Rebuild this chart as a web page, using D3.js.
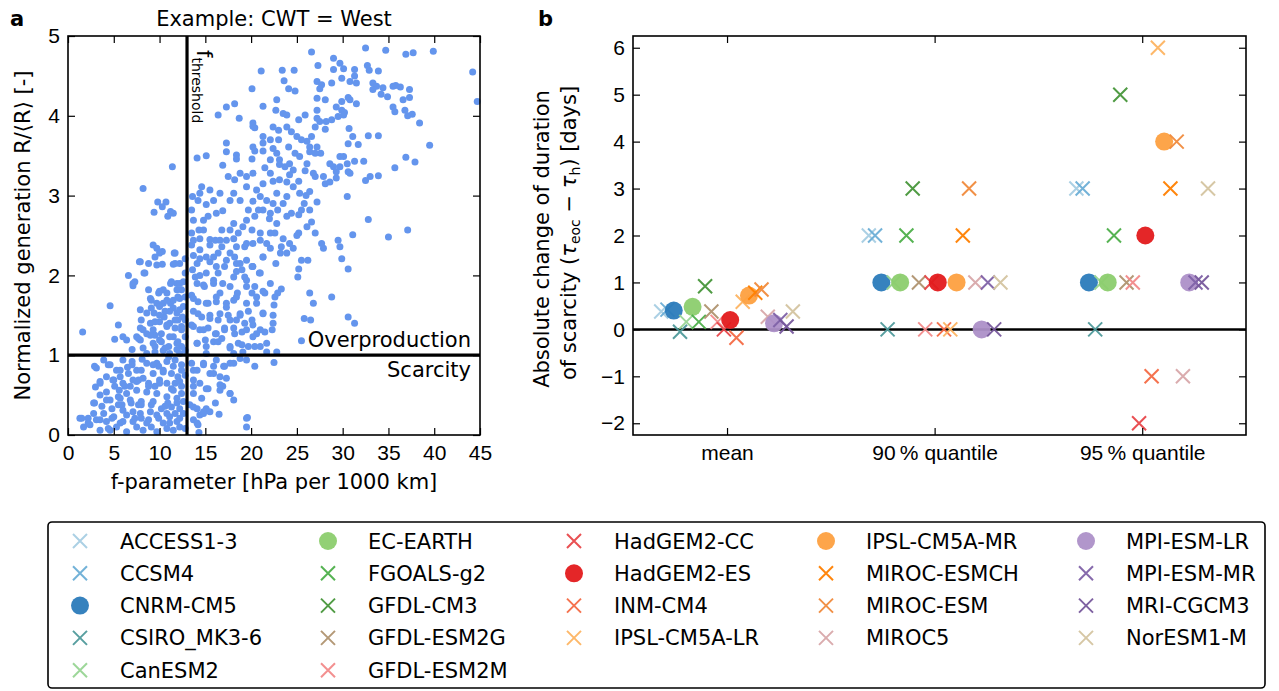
<!DOCTYPE html>
<meta charset="utf-8">
<style>
html, body { margin: 0; background: #fff; }
svg { font-family: "DejaVu Sans", sans-serif; }
.tick line { stroke: #000; stroke-width: 1.2; }
.tick text { font-size: 21px; fill: #000; }
</style>
<svg width="1279" height="691"></svg>
<script src="https://cdn.jsdelivr.net/npm/d3@7"></script>
<script>
// panel a: f-parameter vs normalized generation, CWT = West
const westPoints = [
  [26.6,4.80],[32.5,4.85],[34.7,4.82],[36.9,4.77],[37.7,4.79],[39.9,4.81],[44.2,4.55],[44.7,4.18],
  [21.1,4.56],[23.4,4.57],[24.7,4.57],[29.0,4.72],[29.7,4.66],[30.1,4.59],[31.3,4.58],[29.0,4.58],
  [27.3,4.63],[32.7,4.63],[32.9,4.57],[33.9,4.56],[30.8,4.43],[31.3,4.50],[31.5,4.41],[29.9,4.47],
  [28.8,4.41],[27.2,4.43],[27.7,4.39],[27.5,4.34],[23.6,4.44],[24.1,4.34],[24.8,4.31],[20.1,4.34],
  [33.3,4.41],[33.7,4.37],[34.4,4.35],[33.3,4.33],[34.2,4.27],[34.9,4.24],[35.5,4.37],[35.8,4.38],
  [36.3,4.36],[37.3,4.33],[37.3,4.23],[36.6,4.20],[35.5,4.11],[35.7,4.05],[36.8,4.07],[37.1,4.00],
  [37.6,4.02],[38.4,3.91],[39.5,3.63],[36.9,3.48],[37.9,3.42],[35.7,3.35],[37.1,2.57],[35.0,2.48],
  [32.8,2.70],[31.1,2.51],[30.5,2.99],[33.9,3.25],[33.0,3.24],[32.5,3.19],[33.9,3.75],[32.8,3.75],
  [32.3,3.43],[31.3,3.43],[31.7,3.64],[31.1,3.74],[30.6,3.65],[30.7,3.84],[29.7,3.36],[29.7,3.49],
  [30.1,3.49],[29.3,3.22],[30.6,3.30],[30.8,3.28],[29.9,4.07],[30.2,4.04],[30.1,4.01],[29.9,4.18],
  [30.6,4.23],[30.8,4.20],[31.5,4.15],[28.8,3.95],[28.2,3.93],[27.5,3.93],[27.0,3.86],[28.1,3.83],
  [27.2,3.97],[27.2,4.07],[27.2,4.22],[29.3,4.11],[28.1,4.20],[29.5,3.99],[30.5,3.40],[28.6,3.40],
  [29.0,3.36],[29.3,3.30],[27.9,3.24],[27.0,3.24],[28.1,3.15],[28.6,3.17],[26.8,3.28],[27.6,3.53],
  [27.2,3.61],[26.6,3.74],[26.1,3.68],[26.4,3.61],[27.0,3.53],[26.4,3.55],[27.2,2.92],[29.7,2.36],
  [29.9,2.21],[30.6,2.08],[29.5,2.44],[27.7,2.40],[27.9,2.34],[27.0,2.53],[26.6,2.67],[26.1,2.61],
  [25.2,2.53],[25.5,2.82],[26.4,2.82],[25.8,2.90],[28.8,1.73],[30.6,1.48],[31.3,1.40],[26.8,1.65],
  [26.4,1.78],[25.8,1.46],[26.5,1.44],[25.5,1.18],[25.1,1.98],[25.2,2.08],[25.5,2.19],[26.2,2.19],
  [24.6,2.34],[23.9,2.28],[23.2,2.28],[23.3,2.36],[22.6,2.53],[22.1,2.34],[22.7,2.15],[22.1,1.90],
  [22.9,1.78],[23.3,1.83],[22.6,1.73],[22.5,1.63],[22.4,1.50],[22.4,1.40],[22.3,1.32],[22.8,1.04],
  [22.5,0.91],[21.5,1.29],[20.6,1.27],[20.4,0.86],[19.6,0.22],[19.5,0.10],[19.5,0.94],[18.1,0.44],
  [17.7,0.52],[16.9,0.61],[16.5,0.26],[16.6,0.73],[15.9,0.86],[15.1,1.02],[14.3,0.03],[14.2,0.13],
  [14.4,0.25],[15.1,0.33],[15.5,0.29],[14.8,0.27],[14.1,0.33],
  [11.4,3.36],[8.2,3.09],[9.8,2.92],[10.7,2.92],[10.3,2.86],[11.2,2.80],[11.5,2.78],[10.9,2.74],
  [9.4,2.79],[6.6,2.00],[7.3,1.92],[7.1,1.87],[8.3,2.03],[7.8,2.17],[8.8,2.15],[4.6,1.62],
  [1.6,1.29],[5.5,1.38],[5.1,1.20],[6.0,1.23],[7.9,1.57],[7.5,1.23],[9.3,2.38],[9.7,2.34],
  [10.3,2.30],[9.5,2.23],[11.6,2.28],[11.5,2.14],[10.3,2.14],[9.7,2.13],[12.8,2.21],[12.2,2.15],
  [11.2,1.90],[11.9,1.90],[12.4,1.82],[12.2,1.71],[8.8,1.82],[9.9,1.78],[10.8,1.78],[9.1,1.69],
  [9.7,1.65],[10.4,1.65],[11.2,1.65],[8.6,1.53],[9.4,1.53],[10.5,1.48],[11.9,1.53],[12.5,1.48],
  [10.0,1.42],[10.8,1.36],[11.7,1.34],[12.4,1.32],[9.3,1.32],[8.6,1.27],[7.9,1.19],[9.3,1.15],
  [10.2,1.17],[11.0,1.11],[11.9,1.15],[12.4,1.11],[7.0,1.07],[8.6,1.02],[9.5,1.04],[11.1,1.02],
  [12.2,1.02],[12.8,2.03],[12.6,1.92],[11.9,1.82],[12.8,1.73],[11.5,1.69],[10.4,1.82],[12.6,1.61],
  [11.5,1.59],[10.6,1.55],[10.0,1.61],[12.8,1.44],[11.1,1.40],[12.0,1.44],[10.2,1.27],[12.8,1.23],
  [11.5,1.23],[9.5,1.25],[10.4,1.06],[12.8,1.06],[6.4,1.19],[8.2,1.32],[9.0,1.40],[8.0,1.44],
  [3.1,0.84],[3.5,0.67],[4.6,0.88],[4.2,0.73],[5.3,0.81],[6.0,0.94],[7.0,0.92],[7.5,0.81],
  [8.6,0.90],[9.7,0.90],[10.8,0.92],[11.7,0.94],[12.4,0.88],[9.3,0.77],[10.4,0.79],[11.3,0.77],
  [12.0,0.73],[10.0,0.69],[10.8,0.65],[11.7,0.65],[12.4,0.61],[8.2,0.71],[7.1,0.69],[6.0,0.65],
  [5.1,0.61],[4.2,0.54],[2.9,0.40],[3.7,0.36],[4.6,0.44],[5.5,0.48],[6.4,0.52],[7.5,0.56],
  [8.6,0.54],[9.7,0.52],[10.8,0.48],[11.9,0.46],[12.6,0.42],[1.3,0.21],[1.7,0.10],[2.4,0.13],
  [3.1,0.19],[3.5,0.06],[4.2,0.17],[5.0,0.23],[5.7,0.15],[6.4,0.25],[7.1,0.17],[7.9,0.27],
  [8.8,0.19],[9.7,0.25],[10.4,0.15],[11.1,0.23],[11.9,0.17],[12.6,0.27],[4.8,0.33],[5.9,0.38],
  [6.9,0.40],[8.0,0.42],[9.1,0.38],[10.2,0.33],[11.3,0.35],[12.2,0.33],[4.6,0.06],[6.4,0.04],
  [8.2,0.06],[9.7,0.04],[11.5,0.06],[12.8,0.08],[3.9,0.94],[5.7,0.73],[6.6,0.77],[7.7,0.69],
  [8.8,0.65],[9.5,0.61],[11.5,0.56],[6.8,0.61],[5.0,0.69],[3.5,0.50],[6.0,0.31],[7.1,0.29],
  [9.0,0.29],[10.8,0.27],[11.7,0.27],[3.9,0.27],[2.8,0.27],[2.2,0.21],[4.4,0.08],[5.3,0.10],
  [7.5,0.10],[9.1,0.10],[10.8,0.08],[12.2,0.10],[8.0,0.21],[10.9,0.40],[5.7,0.46],[7.7,0.38],
  [12.4,0.52],[12.8,0.75],[9.9,0.86],[11.0,0.98],[6.5,0.85],[8.1,0.95],[5.6,0.56],[3.0,0.60],
  [13.5,0.90],[14.1,0.81],[14.8,0.88],[15.5,0.77],[16.2,0.94],[17.1,0.86],[17.3,0.71],[14.4,0.65],
  [15.3,0.58],[13.7,0.52],[14.6,0.46],[13.7,0.69],[13.3,0.38],[13.7,0.19],[16.6,0.56],[17.7,0.90],
  [18.1,1.02],[18.8,0.96],
  [14.1,3.47],[15.1,3.50],[13.6,2.99],[14.4,3.03],[14.6,3.11],[15.1,2.89],[14.2,2.94],[13.7,2.69],
  [14.8,2.69],[13.5,2.53],[14.3,2.57],[14.8,2.57],[15.3,2.74],[16.2,2.78],[15.5,2.45],[13.5,2.38],
  [14.4,2.46],[13.7,2.25],[14.4,2.21],[15.5,2.17],[16.4,2.28],[16.8,2.57],[17.3,2.44],[17.7,2.57],
  [16.8,2.36],[17.7,2.28],[17.1,2.11],[16.4,2.03],[15.1,2.03],[14.4,2.00],[13.6,2.07],[14.1,1.90],
  [14.9,1.86],[15.9,1.90],[16.6,1.78],[17.7,1.86],[18.5,1.78],[13.5,1.75],[14.2,1.67],[15.3,1.65],
  [16.2,1.67],[17.3,1.65],[18.1,1.69],[13.7,1.55],[14.6,1.48],[15.5,1.50],[16.4,1.44],[17.5,1.50],
  [18.4,1.44],[19.3,1.40],[13.5,1.38],[14.4,1.32],[15.3,1.34],[16.2,1.27],[17.1,1.32],[18.1,1.34],
  [19.0,1.29],[20.2,1.38],[14.1,1.15],[15.0,1.19],[15.9,1.17],[16.8,1.21],[17.7,1.09],[18.6,1.15],
  [19.7,1.11],[21.0,1.11],[21.7,1.04],[19.1,1.04],[20.2,1.23],[18.8,1.52],[19.7,1.55],[20.6,1.65],
  [21.3,1.53],[20.1,1.78],[19.5,1.86],[20.4,1.86],[21.5,1.78],[19.3,1.98],[20.2,2.11],[20.9,2.03],
  [18.4,2.05],[18.8,2.15],[19.5,2.19],[18.2,2.23],[18.4,2.36],[19.3,2.36],[20.2,2.40],[21.3,2.23],
  [21.7,2.40],[21.0,2.53],[19.5,2.69],[20.1,2.57],[19.1,2.61],[18.6,2.53],[18.1,2.65],[18.8,2.94],
  [19.7,2.82],[20.4,2.74],[17.7,2.94],[16.9,2.81],[17.5,3.24],[18.2,3.20],[19.5,3.11],[20.6,3.07],
  [21.3,3.15],[22.1,3.28],[21.0,2.99],[21.7,2.94],[22.4,2.90],[22.1,2.78],[22.9,2.82],[23.5,2.90],
  [22.8,3.03],[23.9,2.99],[22.8,2.65],[23.9,2.74],[24.4,2.78],[24.6,3.11],[23.9,3.17],[23.1,3.20],
  [22.4,3.18],[25.2,3.18],[25.3,3.03],[24.6,3.32],[24.2,3.40],[23.7,3.36],[25.3,3.49],[24.8,3.53],
  [25.5,3.70],[25.0,3.74],[24.4,3.80],[23.9,3.86],[23.0,3.82],[23.0,3.70],[24.1,3.61],[23.9,4.01],
  [23.5,4.03],[25.2,3.95],[25.9,4.01],[22.8,4.20],[22.7,4.07],[21.3,4.12],[20.2,3.91],[20.2,3.87],
  [20.4,3.85],[21.3,3.74],[21.3,3.66],[21.3,3.56],[20.2,3.61],[20.4,3.56],[20.1,3.46],[18.4,3.51],
  [18.4,3.46],[17.3,3.55],[17.3,3.66],[16.9,3.38],[16.4,4.01],[17.3,4.11],[18.2,4.15],[18.7,3.97],
  [22.4,3.86],[22.1,3.70],[22.4,3.59],[22.8,3.53],[22.1,3.45],[21.5,3.35],[23.1,3.45],[23.1,3.39],
  [26.1,3.40],[25.9,3.31],[24.2,3.26],[22.0,2.71],[20.2,2.93],[20.8,2.82],[21.3,2.82],[22.1,2.53],
  [23.5,2.46],[24.2,2.40],[25.0,2.50],[25.2,2.76],[26.0,3.00],[26.4,3.05],[16.6,3.03],[15.9,2.94],
  [15.5,3.07],[16.1,2.44],[15.9,2.23],[13.5,2.82],[18.1,3.03],[18.8,3.28],[19.5,3.24],[20.2,3.28],
  // denser core, second reading pass
  [10.0,2.28],[7.9,2.17],[11.7,2.28],[11.7,2.15],[8.4,2.03],[7.1,1.90],[11.3,1.92],[12.2,1.90],
  [10.0,1.80],[9.0,1.71],[10.8,1.69],[12.0,1.73],[9.1,1.59],[10.0,1.50],[11.1,1.55],[12.2,1.57],
  [9.5,1.42],[10.8,1.38],[11.7,1.44],[12.4,1.36],[7.9,1.34],[7.7,1.21],[9.0,1.25],[10.0,1.19],
  [11.1,1.23],[12.0,1.17],[8.2,1.09],[9.5,1.11],[10.6,1.09],[11.9,1.07],
  [13.7,2.44],[14.4,2.32],[15.5,2.38],[16.6,2.44],[18.1,2.46],[19.5,2.40],[21.0,2.44],[14.1,2.15],
  [15.1,2.23],[16.2,2.11],[17.3,2.19],[18.4,2.15],[19.0,2.07],[20.1,2.11],[21.3,2.23],[13.9,1.98],
  [14.8,1.88],[15.9,1.94],[16.9,1.90],[18.1,1.98],[19.5,1.94],[21.0,2.03],[21.3,1.80],[13.7,1.71],
  [15.1,1.65],[16.2,1.73],[17.3,1.60],[18.4,1.73],[19.5,1.65],[20.6,1.73],[14.2,1.52],[15.5,1.46],
  [16.6,1.52],[17.7,1.44],[18.8,1.50],[20.1,1.44],[21.3,1.52],[13.7,1.36],[14.8,1.32],[16.1,1.27],
  [17.1,1.34],[18.2,1.27],[19.5,1.32],[21.0,1.32],[14.1,1.15],[15.1,1.11],[16.4,1.17],[17.7,1.11],
  [19.0,1.13],[20.4,1.11],[21.7,1.15],
  [2.9,0.86],[4.4,0.88],[5.7,0.81],[7.0,0.88],[8.0,0.81],[9.3,0.88],[10.4,0.81],[11.5,0.86],
  [12.4,0.81],[3.5,0.65],[4.9,0.69],[6.2,0.61],[7.5,0.67],[8.8,0.61],[10.0,0.65],[11.3,0.58],
  [12.2,0.67],[2.8,0.40],[4.2,0.44],[5.5,0.38],[6.8,0.44],[8.0,0.38],[9.3,0.42],[10.6,0.36],
  [11.9,0.40],[1.5,0.21],[2.2,0.15],[3.5,0.19],[4.8,0.21],[6.0,0.17],[7.3,0.21],[8.6,0.15],
  [9.9,0.21],[11.1,0.15],[12.2,0.21],[13.7,0.81],[14.8,0.90],[15.9,0.77],[17.0,0.86],[18.1,0.90],
  [13.7,0.61],[15.1,0.58],[16.6,0.63],[17.7,0.52],[13.7,0.35],[14.8,0.29],[16.1,0.40],[14.1,0.15],
  [19.5,0.21]
];

// panel b: change of scarcity duration per model
const models = ['ACCESS1-3','CCSM4','CNRM-CM5','CSIRO_MK3-6','CanESM2','EC-EARTH','FGOALS-g2',
  'GFDL-CM3','GFDL-ESM2G','GFDL-ESM2M','HadGEM2-CC','HadGEM2-ES','INM-CM4','IPSL-CM5A-LR',
  'IPSL-CM5A-MR','MIROC-ESMCH','MIROC-ESM','MIROC5','MPI-ESM-LR','MPI-ESM-MR','MRI-CGCM3','NorESM1-M'];
const markers = ['x','x','o','x','x','o','x','x','x','x','x','o','x','x','o','x','x','x','o','x','x','x'];
const colors = ['#a6cee3','#6baed6','#2b7bba','#4f9a9b','#98d594','#8ccd6e','#4daf4a','#47963a',
  '#b09470','#f28a8a','#e8474a','#e31a1c','#f46a45','#fdb462','#fda040','#ff7f00','#f08a3c',
  '#d8a8aa','#ad90c8','#8062a8','#77589c','#d4c4a0'];
const categories = ['mean', '90\u2009% quantile', '95\u2009% quantile'];
const meanVals = [0.38,0.42,0.40,-0.05,0.16,0.48,0.16,0.92,0.38,0.16,0.0,0.20,-0.18,0.59,0.72,0.78,0.85,0.27,0.13,0.20,0.06,0.38];
const q90Vals = [2,2,1,0,1,1,2,3,1,0,1,1,0,0,1,2,3,1,0,1,0,1];
const q95Vals = [3,3,1,0,1,1,2,5,1,1,-2,2,-1,6,4,3,4,-1,1,1,1,3];
const legendCols = [5, 5, 4, 4, 4];

const svg = d3.select('svg');
const A = {left: 68, right: 480, top: 36, bottom: 435};
const B = {left: 633, right: 1246, top: 36, bottom: 435};

const xA = d3.scaleLinear().domain([0, 45]).range([A.left, A.right]);
const yA = d3.scaleLinear().domain([0, 5]).range([A.bottom, A.top]);
const xB = d3.scaleLinear().domain([-0.453, 2.5]).range([B.left, B.right]);
const yB = d3.scaleLinear().domain([-2.25, 6.25]).range([B.bottom, B.top]);

function frameAxes(P, x, y, xt, yt, xfmt, yfmt) {
  const g = svg.append('g');
  g.append('g').attr('transform', `translate(0,${P.bottom})`)
    .call(d3.axisBottom(x).tickValues(xt).tickSize(-7).tickPadding(10).tickFormat(xfmt));
  g.append('g').attr('transform', `translate(0,${P.top})`)
    .call(d3.axisTop(x).tickValues(xt).tickSize(-7).tickFormat(''));
  g.append('g').attr('transform', `translate(${P.left},0)`)
    .call(d3.axisLeft(y).tickValues(yt).tickSize(-7).tickPadding(8).tickFormat(yfmt));
  g.append('g').attr('transform', `translate(${P.right},0)`)
    .call(d3.axisRight(y).tickValues(yt).tickSize(-7).tickFormat(''));
  g.selectAll('.domain').remove();
  g.selectAll('.tick text').attr('font-family', null);
  return g;
}

// ---- panel a ----
svg.append('g')
  .selectAll('circle')
  .data(westPoints)
  .enter()
  .append('circle')
  .attr('cx', d => xA(d[0]))
  .attr('cy', d => yA(d[1]))
  .attr('r', 3.5)
  .attr('fill', '#6495ed');

svg.append('line')
  .attr('x1', xA(13)).attr('x2', xA(13))
  .attr('y1', A.top).attr('y2', A.bottom)
  .attr('stroke', '#000').attr('stroke-width', 3.2);
svg.append('line')
  .attr('x1', A.left).attr('x2', A.right)
  .attr('y1', yA(1)).attr('y2', yA(1))
  .attr('stroke', '#000').attr('stroke-width', 3.2);

frameAxes(A, xA, yA, d3.range(0, 50, 5), d3.range(0, 6), d3.format('d'), d3.format('d'));
svg.append('rect')
  .attr('x', A.left).attr('y', A.top)
  .attr('width', A.right - A.left).attr('height', A.bottom - A.top)
  .attr('fill', 'none').attr('stroke', '#000').attr('stroke-width', 1.6);

const fth = svg.append('text')
  .attr('transform', `translate(${xA(13) + 10},50) rotate(90)`)
  .attr('font-size', 21);
fth.append('tspan').text('f');
fth.append('tspan').attr('dy', 5).attr('font-size', 14).text('threshold');

svg.append('text').attr('x', 471).attr('y', 347).attr('text-anchor', 'end')
  .attr('font-size', 21).text('Overproduction');
svg.append('text').attr('x', 471).attr('y', 377).attr('text-anchor', 'end')
  .attr('font-size', 21).text('Scarcity');

svg.append('text').attr('x', (A.left + A.right) / 2).attr('y', 26).attr('text-anchor', 'middle')
  .attr('font-size', 21).text('Example: CWT = West');
svg.append('text').attr('x', 10).attr('y', 26).attr('font-size', 21).attr('font-weight', 'bold').text('a');
svg.append('text').attr('x', (A.left + A.right) / 2).attr('y', 489).attr('text-anchor', 'middle')
  .attr('font-size', 21).text('f-parameter [hPa per 1000 km]');
svg.append('text')
  .attr('transform', `translate(30,${(A.top + A.bottom) / 2}) rotate(-90)`)
  .attr('text-anchor', 'middle').attr('font-size', 21)
  .text('Normalized generation R/\u27e8R\u27e9 [-]');

// ---- panel b ----
svg.append('line')
  .attr('x1', B.left).attr('x2', B.right)
  .attr('y1', yB(0)).attr('y2', yB(0))
  .attr('stroke', '#000').attr('stroke-width', 2.5);

const step = 0.0302;
const series = [meanVals, q90Vals, q95Vals];
const pts = [];
series.forEach((vals, c) => {
  vals.forEach((v, i) => pts.push({c, i, v}));
});
pts.sort((a, b) => a.i - b.i);

const gb = svg.append('g');
function drawMarker(g, type, color, cx, cy) {
  if (type === 'o') {
    g.append('circle').attr('cx', cx).attr('cy', cy).attr('r', 9)
      .attr('fill', color).attr('fill-opacity', 0.95);
  } else {
    const s = 7;
    g.append('path')
      .attr('d', `M${cx - s},${cy - s}L${cx + s},${cy + s}M${cx - s},${cy + s}L${cx + s},${cy - s}`)
      .attr('stroke', color).attr('stroke-width', 2).attr('fill', 'none').attr('stroke-opacity', 0.95);
  }
}
pts.forEach(p => {
  drawMarker(gb, markers[p.i], colors[p.i], xB(p.c + (p.i - 10.5) * step), yB(p.v));
});

frameAxes(B, xB, yB, [0, 1, 2], d3.range(-2, 7), i => categories[i], d => d3.format('d')(d).replace('-', '\u2212'));
svg.append('rect')
  .attr('x', B.left).attr('y', B.top)
  .attr('width', B.right - B.left).attr('height', B.bottom - B.top)
  .attr('fill', 'none').attr('stroke', '#000').attr('stroke-width', 1.6);

svg.append('text').attr('x', 538).attr('y', 26).attr('font-size', 21).attr('font-weight', 'bold').text('b');
svg.append('text')
  .attr('transform', `translate(549,239) rotate(-90)`)
  .attr('text-anchor', 'middle').attr('font-size', 21)
  .text('Absolute change of duration');
const yl2 = svg.append('text')
  .attr('transform', `translate(576,233) rotate(-90)`)
  .attr('text-anchor', 'middle').attr('font-size', 21);
yl2.append('tspan').text('of scarcity (');
yl2.append('tspan').attr('font-style', 'italic').text('\u03c4');
yl2.append('tspan').attr('font-size', 14).attr('dy', 4).text('eoc');
yl2.append('tspan').attr('dy', -4).text(' \u2212 ');
yl2.append('tspan').attr('font-style', 'italic').text('\u03c4');
yl2.append('tspan').attr('font-size', 14).attr('dy', 4).text('h');
yl2.append('tspan').attr('dy', -4).text(') [days]');

// ---- legend ----
const lg = svg.append('g');
lg.append('rect')
  .attr('x', 48).attr('y', 522).attr('width', 1217).attr('height', 166)
  .attr('rx', 4).attr('fill', '#fff').attr('stroke', '#000').attr('stroke-width', 1.6);
const colX = [80, 328, 574, 826, 1086];
let idx = 0;
legendCols.forEach((n, c) => {
  for (let r = 0; r < n; r++, idx++) {
    const cy = 541 + r * 32.3;
    drawMarker(lg, markers[idx], colors[idx], colX[c], cy);
    lg.append('text').attr('x', colX[c] + 40).attr('y', cy + 7.5)
      .attr('font-size', 21).text(models[idx]);
  }
});
</script>
